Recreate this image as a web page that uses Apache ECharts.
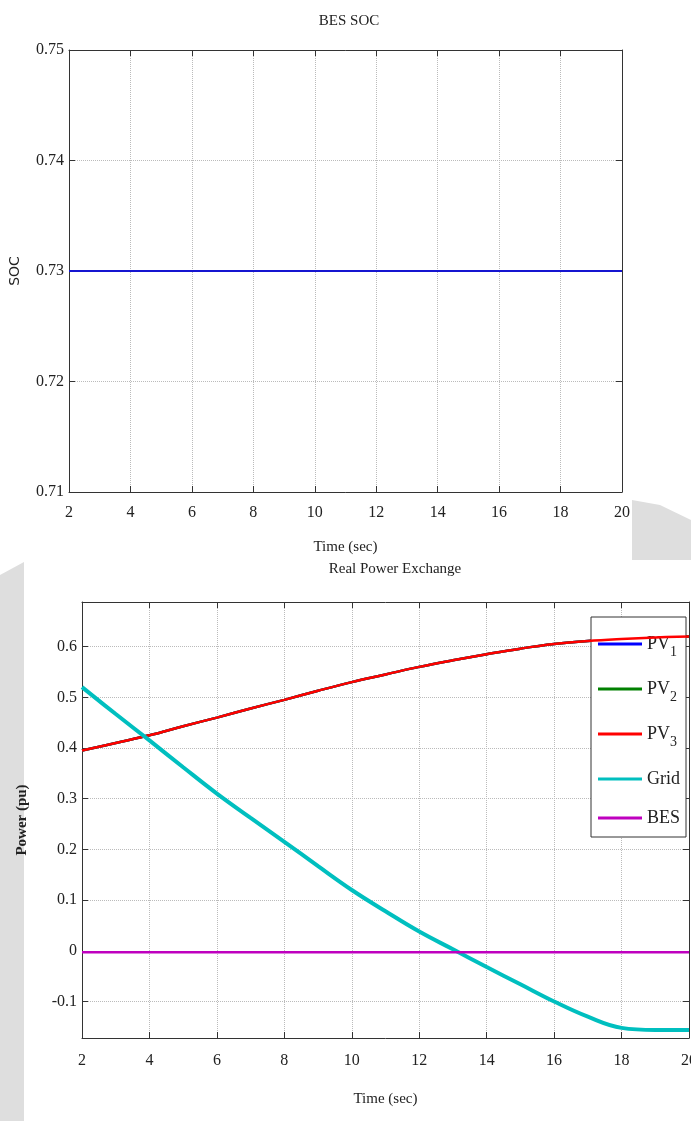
<!DOCTYPE html>
<html>
<head>
<meta charset="utf-8">
<script src="https://cdn.jsdelivr.net/npm/echarts@6/dist/echarts.min.js"></script>
<style>
  html, body { margin: 0; padding: 0; background: #fff; overflow: hidden; }
  #main { width: 700px; height: 1121px; }
</style>
</head>
<body>
<div id="main"></div>
<script>
  // top panel: battery state of charge
  const socTime = [2, 20];
  const socValues = [0.73, 0.73];
  const socTicks = [0.71, 0.72, 0.73, 0.74, 0.75];

  // bottom panel: real power exchange
  const powerTime = [2, 3, 4, 5, 6, 7, 8, 9, 10, 11, 12, 13, 14, 15, 16, 17, 18, 19, 20];
  const pvValues = [0.395, 0.41, 0.425, 0.443, 0.46, 0.478, 0.495, 0.513, 0.53, 0.545, 0.56, 0.573, 0.585, 0.596, 0.605, 0.611, 0.615, 0.618, 0.62];
  const gridValues = [0.52, 0.467, 0.415, 0.362, 0.31, 0.262, 0.215, 0.167, 0.12, 0.078, 0.038, 0.003, -0.032, -0.066, -0.1, -0.13, -0.152, -0.156, -0.156];
  const besValues = [-0.003, -0.003, -0.003, -0.003, -0.003, -0.003, -0.003, -0.003, -0.003, -0.003, -0.003, -0.003, -0.003, -0.003, -0.003, -0.003, -0.003, -0.003, -0.003];
  const powerTicks = [-0.1, 0, 0.1, 0.2, 0.3, 0.4, 0.5, 0.6];
  const powerRange = [-0.172, 0.688];
  const seriesNames = ['PV1', 'PV2', 'PV3', 'Grid', 'BES'];
  const seriesColors = ['#0000ff', '#008000', '#ff0000', '#00bfbf', '#bf00bf'];

  const serif = 'Liberation Serif';
  const pairs = (xs, ys) => xs.map((x, i) => [x, ys[i]]);

  let chart = echarts.init(document.getElementById('main'));

  function xAxes(gridIndex, nameGap, labelMargin) {
    return [{
      type: 'value', gridIndex: gridIndex, min: 2, max: 20, interval: 2,
      name: 'Time (sec)', nameLocation: 'middle', nameGap: nameGap,
      nameTextStyle: { fontFamily: serif, fontSize: 15, color: '#222' },
      axisLine: { onZero: false, lineStyle: { color: '#333' } },
      axisTick: { inside: true, length: 6, lineStyle: { color: '#333' } },
      axisLabel: { fontFamily: serif, fontSize: 16, color: '#222', margin: labelMargin },
      splitLine: { show: true, lineStyle: { color: '#bbb', type: 'dotted' } }
    }, {
      type: 'value', gridIndex: gridIndex, position: 'top', min: 2, max: 20, interval: 2,
      axisLine: { show: true, onZero: false, lineStyle: { color: '#333' } },
      axisTick: { inside: true, length: 6, lineStyle: { color: '#333' } },
      axisLabel: { show: false }, splitLine: { show: false }
    }];
  }

  function yAxes(gridIndex, min, max, ticks, name, nameStyle, nameGap, fmt) {
    return [{
      type: 'value', gridIndex: gridIndex, min: min, max: max,
      name: name, nameLocation: 'middle', nameGap: nameGap, nameTextStyle: nameStyle,
      axisLine: { show: true, onZero: false, lineStyle: { color: '#333' } },
      axisTick: { inside: true, length: 6, customValues: ticks, lineStyle: { color: '#333' } },
      axisLabel: { fontFamily: serif, fontSize: 16, color: '#222', margin: 5, customValues: ticks, formatter: fmt },
      splitLine: { show: true, lineStyle: { color: '#bbb', type: 'dotted' } }
    }, {
      type: 'value', gridIndex: gridIndex, position: 'right', min: min, max: max,
      axisLine: { show: true, onZero: false, lineStyle: { color: '#333' } },
      axisTick: { inside: true, length: 6, customValues: ticks, lineStyle: { color: '#333' } },
      axisLabel: { show: false }, splitLine: { show: false }
    }];
  }

  let option = {
    animation: false,
    backgroundColor: '#fff',
    graphic: [
      { type: 'polygon', z: -10, silent: true, shape: { points: [[0, 575], [24, 562], [24, 1121], [0, 1121]] }, style: { fill: '#dedede' } },
      { type: 'polygon', z: -10, silent: true, shape: { points: [[632, 500], [660, 505], [691, 520], [691, 560], [632, 560]] }, style: { fill: '#dedede' } }
    ],
    title: [
      { text: 'BES SOC', left: 344, textAlign: 'center', top: 9, textStyle: { fontFamily: serif, fontSize: 15, fontWeight: 'normal', color: '#222' } },
      { text: 'Real Power Exchange', left: 390, textAlign: 'center', top: 557, textStyle: { fontFamily: serif, fontSize: 15, fontWeight: 'normal', color: '#222' } }
    ],
    legend: {
      data: seriesNames,
      orient: 'vertical',
      left: 591, top: 617,
      width: 97,
      backgroundColor: '#fff',
      borderColor: '#333', borderWidth: 1,
      padding: [18, 6, 10, 7],
      icon: 'rect',
      itemWidth: 44, itemHeight: 3, itemGap: 21,
      formatter: function (name) {
        return name.indexOf('PV') === 0 ? 'PV{sub|' + name.slice(2) + '}' : name;
      },
      textStyle: {
        fontFamily: serif, fontSize: 18, color: '#222',
        rich: { sub: { fontFamily: serif, fontSize: 14, color: '#222', padding: [16, 0, 0, 0] } }
      }
    },
    grid: [
      { left: 67, top: 50, width: 555, height: 442 },
      { left: 82, top: 602, width: 612, height: 436 }
    ],
    xAxis: xAxes(0, 48, 13).concat(xAxes(1, 54, 15)),
    yAxis: yAxes(0, socTicks[0], socTicks[socTicks.length - 1], socTicks, 'SOC',
        { fontFamily: 'DejaVu Sans', fontSize: 14, color: '#222' }, 47, v => v.toFixed(2))
      .concat(yAxes(1, powerRange[0], powerRange[1], powerTicks, 'Power (pu)',
        { fontFamily: serif, fontSize: 15, fontWeight: 'bold', color: '#222' }, 52,
        v => (Math.abs(v) < 1e-9 ? '0' : (Math.round(v * 10) / 10).toString()))),
    series: [
      {
        type: 'line', xAxisIndex: 0, yAxisIndex: 0, data: pairs(socTime, socValues),
        symbol: 'none', lineStyle: { color: '#1515d0', width: 2 }, silent: true
      }
    ].concat(seriesNames.map((name, i) => {
      const vals = i < 3 ? pvValues : (i === 3 ? gridValues : besValues);
      return {
        name: name, type: 'line', xAxisIndex: 2, yAxisIndex: 2,
        data: pairs(powerTime, vals), symbol: 'none', smooth: 0.4,
        color: seriesColors[i],
        lineStyle: { color: seriesColors[i], width: i === 3 ? 4 : 2.5 },
        z: 2 + i
      };
    }))
  };

  chart.setOption(option);
</script>
</body>
</html>
